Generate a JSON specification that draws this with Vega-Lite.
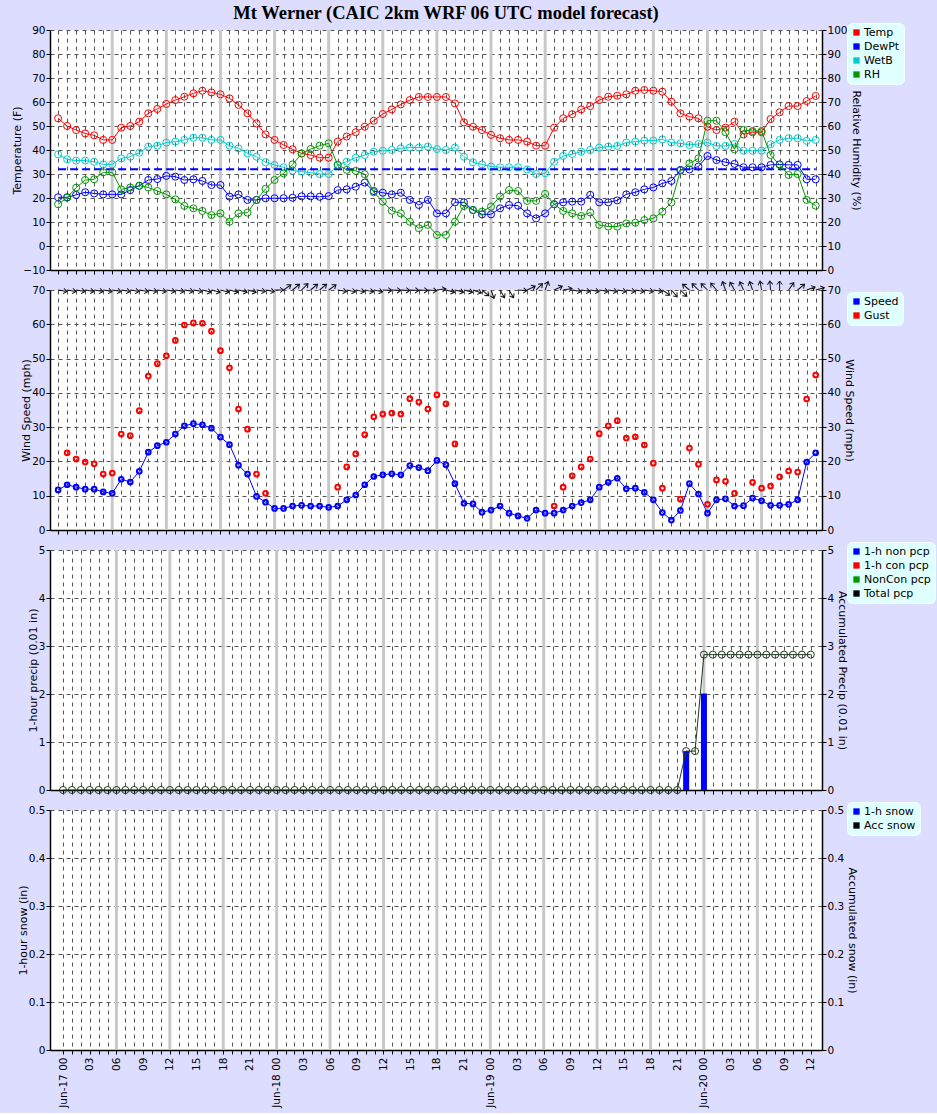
{
"$schema":"https://vega.github.io/schema/vega-lite/v6.json",
"padding":{"left":11,"top":4,"right":5,"bottom":5},
"background":"#DDDDFF",
"title":{"text":"Mt Werner (CAIC 2km WRF 06 UTC model forecast)","font":"Liberation Serif","fontSize":18.5,"fontWeight":"bold","color":"black","anchor":"middle","frame":"group","dx":10,"offset":0},
"datasets":{
"six":[{"h":6},{"h":12},{"h":18},{"h":24},{"h":30},{"h":36},{"h":42},{"h":48},{"h":54},{"h":60},{"h":66},{"h":72},{"h":78}],
"frz":[{"a":0,"b":84,"t":32}],
"met":[
{"h":0,"Temp":53.2,"DewPt":20.3,"WetB":38.2,"RH":27.4},
{"h":1,"Temp":50.0,"DewPt":20.3,"WetB":36.1,"RH":30.1},
{"h":2,"Temp":48.3,"DewPt":21.3,"WetB":35.6,"RH":34.3},
{"h":3,"Temp":46.9,"DewPt":22.4,"WetB":35.6,"RH":37.5},
{"h":4,"Temp":46.1,"DewPt":21.9,"WetB":35.1,"RH":37.8},
{"h":5,"Temp":44.2,"DewPt":21.5,"WetB":34.0,"RH":40.7},
{"h":6,"Temp":44.2,"DewPt":21.5,"WetB":34.0,"RH":40.7},
{"h":7,"Temp":49.3,"DewPt":21.5,"WetB":36.5,"RH":33.6},
{"h":8,"Temp":50.0,"DewPt":23.3,"WetB":37.2,"RH":34.4},
{"h":9,"Temp":51.8,"DewPt":25.1,"WetB":38.9,"RH":35.1},
{"h":10,"Temp":55.3,"DewPt":27.5,"WetB":41.4,"RH":34.4},
{"h":11,"Temp":57.1,"DewPt":27.9,"WetB":41.8,"RH":32.9},
{"h":12,"Temp":59.2,"DewPt":29.2,"WetB":43.1,"RH":31.5},
{"h":13,"Temp":60.8,"DewPt":28.9,"WetB":43.5,"RH":29.4},
{"h":14,"Temp":62.2,"DewPt":27.5,"WetB":44.2,"RH":26.7},
{"h":15,"Temp":63.6,"DewPt":27.8,"WetB":45.1,"RH":25.7},
{"h":16,"Temp":64.7,"DewPt":27.1,"WetB":45.1,"RH":24.6},
{"h":17,"Temp":64.0,"DewPt":25.4,"WetB":44.2,"RH":22.9},
{"h":18,"Temp":63.2,"DewPt":25.4,"WetB":44.2,"RH":23.6},
{"h":19,"Temp":61.5,"DewPt":20.6,"WetB":41.8,"RH":20.1},
{"h":20,"Temp":58.8,"DewPt":21.5,"WetB":40.7,"RH":23.6},
{"h":21,"Temp":55.3,"DewPt":19.2,"WetB":38.6,"RH":23.9},
{"h":22,"Temp":51.1,"DewPt":19.2,"WetB":37.2,"RH":29.2},
{"h":23,"Temp":46.5,"DewPt":19.9,"WetB":34.9,"RH":33.8},
{"h":24,"Temp":44.2,"DewPt":19.9,"WetB":33.8,"RH":37.5},
{"h":25,"Temp":42.1,"DewPt":19.9,"WetB":32.8,"RH":40.3},
{"h":26,"Temp":40.3,"DewPt":20.1,"WetB":31.4,"RH":44.0},
{"h":27,"Temp":38.6,"DewPt":20.7,"WetB":31.0,"RH":48.5},
{"h":28,"Temp":37.9,"DewPt":20.7,"WetB":30.6,"RH":50.4},
{"h":29,"Temp":36.8,"DewPt":20.5,"WetB":30.0,"RH":51.8},
{"h":30,"Temp":36.8,"DewPt":20.8,"WetB":30.0,"RH":52.8},
{"h":31,"Temp":43.5,"DewPt":23.3,"WetB":33.8,"RH":43.8},
{"h":32,"Temp":45.6,"DewPt":23.6,"WetB":35.1,"RH":41.7},
{"h":33,"Temp":47.4,"DewPt":24.7,"WetB":36.8,"RH":41.3},
{"h":34,"Temp":49.7,"DewPt":26.4,"WetB":37.9,"RH":39.9},
{"h":35,"Temp":52.2,"DewPt":22.9,"WetB":39.3,"RH":32.4},
{"h":36,"Temp":55.0,"DewPt":22.2,"WetB":39.7,"RH":28.5},
{"h":37,"Temp":56.9,"DewPt":21.5,"WetB":40.0,"RH":24.7},
{"h":38,"Temp":59.0,"DewPt":22.2,"WetB":40.7,"RH":23.6},
{"h":39,"Temp":60.8,"DewPt":19.2,"WetB":41.0,"RH":20.1},
{"h":40,"Temp":62.1,"DewPt":17.1,"WetB":41.0,"RH":17.4},
{"h":41,"Temp":62.1,"DewPt":19.2,"WetB":41.4,"RH":18.8},
{"h":42,"Temp":62.1,"DewPt":13.6,"WetB":40.4,"RH":14.6},
{"h":43,"Temp":62.1,"DewPt":13.6,"WetB":40.0,"RH":14.6},
{"h":44,"Temp":59.4,"DewPt":18.2,"WetB":41.0,"RH":20.1},
{"h":45,"Temp":51.5,"DewPt":18.2,"WetB":37.2,"RH":26.7},
{"h":46,"Temp":49.7,"DewPt":15.0,"WetB":34.9,"RH":25.0},
{"h":47,"Temp":48.3,"DewPt":13.2,"WetB":34.0,"RH":24.3},
{"h":48,"Temp":46.3,"DewPt":13.2,"WetB":33.1,"RH":26.4},
{"h":49,"Temp":44.9,"DewPt":15.7,"WetB":32.8,"RH":30.6},
{"h":50,"Temp":44.2,"DewPt":17.1,"WetB":32.8,"RH":33.3},
{"h":51,"Temp":44.2,"DewPt":16.8,"WetB":32.8,"RH":32.9},
{"h":52,"Temp":43.5,"DewPt":13.6,"WetB":31.9,"RH":28.8},
{"h":53,"Temp":41.8,"DewPt":11.5,"WetB":30.0,"RH":28.8},
{"h":54,"Temp":41.8,"DewPt":13.6,"WetB":30.3,"RH":31.7},
{"h":55,"Temp":49.3,"DewPt":17.4,"WetB":35.1,"RH":27.4},
{"h":56,"Temp":53.2,"DewPt":18.2,"WetB":37.5,"RH":24.6},
{"h":57,"Temp":54.9,"DewPt":18.5,"WetB":38.3,"RH":23.6},
{"h":58,"Temp":56.9,"DewPt":18.5,"WetB":39.3,"RH":22.5},
{"h":59,"Temp":58.3,"DewPt":21.3,"WetB":40.0,"RH":24.0},
{"h":60,"Temp":60.8,"DewPt":18.2,"WetB":41.0,"RH":18.8},
{"h":61,"Temp":62.2,"DewPt":18.2,"WetB":41.4,"RH":18.1},
{"h":62,"Temp":62.6,"DewPt":19.0,"WetB":41.7,"RH":18.1},
{"h":63,"Temp":63.2,"DewPt":21.5,"WetB":43.1,"RH":19.4},
{"h":64,"Temp":64.7,"DewPt":22.4,"WetB":43.5,"RH":19.7},
{"h":65,"Temp":65.0,"DewPt":23.6,"WetB":43.9,"RH":20.8},
{"h":66,"Temp":64.7,"DewPt":24.4,"WetB":43.9,"RH":21.5},
{"h":67,"Temp":64.3,"DewPt":26.1,"WetB":44.4,"RH":24.3},
{"h":68,"Temp":60.1,"DewPt":27.1,"WetB":43.1,"RH":28.1},
{"h":69,"Temp":55.3,"DewPt":31.7,"WetB":42.8,"RH":41.4},
{"h":70,"Temp":53.9,"DewPt":31.9,"WetB":42.1,"RH":44.4},
{"h":71,"Temp":53.2,"DewPt":33.1,"WetB":42.5,"RH":46.5},
{"h":72,"Temp":49.7,"DewPt":37.5,"WetB":43.1,"RH":62.2},
{"h":73,"Temp":48.3,"DewPt":35.8,"WetB":41.7,"RH":62.2},
{"h":74,"Temp":49.3,"DewPt":34.9,"WetB":41.7,"RH":57.4},
{"h":75,"Temp":51.8,"DewPt":34.2,"WetB":42.5,"RH":50.3},
{"h":76,"Temp":46.5,"DewPt":32.8,"WetB":39.7,"RH":58.3},
{"h":77,"Temp":47.4,"DewPt":32.8,"WetB":39.7,"RH":57.9},
{"h":78,"Temp":47.4,"DewPt":32.8,"WetB":39.7,"RH":57.9},
{"h":79,"Temp":52.9,"DewPt":33.8,"WetB":42.4,"RH":47.9},
{"h":80,"Temp":55.7,"DewPt":34.0,"WetB":44.2,"RH":43.8},
{"h":81,"Temp":58.3,"DewPt":33.8,"WetB":44.9,"RH":39.6},
{"h":82,"Temp":58.3,"DewPt":33.8,"WetB":44.9,"RH":40.0},
{"h":83,"Temp":60.4,"DewPt":27.8,"WetB":43.8,"RH":29.2},
{"h":84,"Temp":62.5,"DewPt":27.8,"WetB":44.2,"RH":26.8}
],
"wind":[
{"h":0,"Speed":11.7,"Gust":null,"dir":280},
{"h":1,"Speed":13.2,"Gust":22.5,"dir":280},
{"h":2,"Speed":12.5,"Gust":20.7,"dir":280},
{"h":3,"Speed":11.9,"Gust":19.8,"dir":280},
{"h":4,"Speed":11.9,"Gust":19.3,"dir":280},
{"h":5,"Speed":11.1,"Gust":16.3,"dir":280},
{"h":6,"Speed":10.7,"Gust":16.6,"dir":280},
{"h":7,"Speed":14.8,"Gust":28.0,"dir":280},
{"h":8,"Speed":14.0,"Gust":27.5,"dir":280},
{"h":9,"Speed":17.1,"Gust":34.8,"dir":280},
{"h":10,"Speed":22.7,"Gust":44.9,"dir":280},
{"h":11,"Speed":24.6,"Gust":48.5,"dir":280},
{"h":12,"Speed":25.6,"Gust":50.8,"dir":280},
{"h":13,"Speed":28.0,"Gust":55.3,"dir":280},
{"h":14,"Speed":30.4,"Gust":59.8,"dir":280},
{"h":15,"Speed":31.0,"Gust":60.4,"dir":280},
{"h":16,"Speed":30.7,"Gust":60.3,"dir":285},
{"h":17,"Speed":29.7,"Gust":58.0,"dir":285},
{"h":18,"Speed":27.1,"Gust":52.3,"dir":285},
{"h":19,"Speed":24.9,"Gust":47.3,"dir":285},
{"h":20,"Speed":18.9,"Gust":35.3,"dir":285},
{"h":21,"Speed":16.3,"Gust":29.4,"dir":285},
{"h":22,"Speed":9.8,"Gust":16.3,"dir":280},
{"h":23,"Speed":8.1,"Gust":10.7,"dir":280},
{"h":24,"Speed":6.3,"Gust":null,"dir":270},
{"h":25,"Speed":6.3,"Gust":null,"dir":235},
{"h":26,"Speed":7.0,"Gust":null,"dir":230},
{"h":27,"Speed":7.2,"Gust":null,"dir":225},
{"h":28,"Speed":7.0,"Gust":null,"dir":230},
{"h":29,"Speed":7.0,"Gust":null,"dir":230},
{"h":30,"Speed":6.6,"Gust":null,"dir":235},
{"h":31,"Speed":7.0,"Gust":12.5,"dir":280},
{"h":32,"Speed":8.8,"Gust":18.4,"dir":282},
{"h":33,"Speed":10.2,"Gust":22.2,"dir":282},
{"h":34,"Speed":13.2,"Gust":27.8,"dir":282},
{"h":35,"Speed":15.6,"Gust":33.0,"dir":282},
{"h":36,"Speed":16.1,"Gust":33.8,"dir":273},
{"h":37,"Speed":16.4,"Gust":34.1,"dir":273},
{"h":38,"Speed":16.1,"Gust":33.8,"dir":273},
{"h":39,"Speed":18.8,"Gust":38.3,"dir":273},
{"h":40,"Speed":18.2,"Gust":37.3,"dir":273},
{"h":41,"Speed":17.3,"Gust":35.3,"dir":275},
{"h":42,"Speed":20.3,"Gust":39.4,"dir":262},
{"h":43,"Speed":19.0,"Gust":36.8,"dir":285},
{"h":44,"Speed":13.5,"Gust":25.1,"dir":285},
{"h":45,"Speed":7.8,"Gust":null,"dir":285},
{"h":46,"Speed":7.6,"Gust":null,"dir":290},
{"h":47,"Speed":5.2,"Gust":null,"dir":310},
{"h":48,"Speed":5.8,"Gust":null,"dir":340},
{"h":49,"Speed":7.0,"Gust":null,"dir":330},
{"h":50,"Speed":4.9,"Gust":null,"dir":330},
{"h":51,"Speed":4.1,"Gust":null,"dir":275},
{"h":52,"Speed":3.4,"Gust":null,"dir":245},
{"h":53,"Speed":5.8,"Gust":null,"dir":225},
{"h":54,"Speed":4.9,"Gust":null,"dir":200},
{"h":55,"Speed":4.9,"Gust":7.0,"dir":245},
{"h":56,"Speed":5.8,"Gust":12.5,"dir":260},
{"h":57,"Speed":7.0,"Gust":15.8,"dir":280},
{"h":58,"Speed":8.0,"Gust":18.4,"dir":280},
{"h":59,"Speed":8.8,"Gust":20.7,"dir":280},
{"h":60,"Speed":12.5,"Gust":28.1,"dir":280},
{"h":61,"Speed":13.9,"Gust":30.4,"dir":280},
{"h":62,"Speed":15.1,"Gust":31.9,"dir":280},
{"h":63,"Speed":12.0,"Gust":26.8,"dir":280},
{"h":64,"Speed":12.2,"Gust":27.2,"dir":280},
{"h":65,"Speed":11.0,"Gust":24.8,"dir":280},
{"h":66,"Speed":8.8,"Gust":19.5,"dir":280},
{"h":67,"Speed":5.1,"Gust":12.2,"dir":305},
{"h":68,"Speed":2.9,"Gust":null,"dir":320},
{"h":69,"Speed":5.7,"Gust":9.0,"dir":315},
{"h":70,"Speed":13.5,"Gust":23.9,"dir":130},
{"h":71,"Speed":10.5,"Gust":19.2,"dir":135},
{"h":72,"Speed":4.9,"Gust":7.5,"dir":135},
{"h":73,"Speed":8.8,"Gust":14.6,"dir":140},
{"h":74,"Speed":9.1,"Gust":14.2,"dir":160},
{"h":75,"Speed":7.0,"Gust":10.7,"dir":150},
{"h":76,"Speed":7.1,"Gust":null,"dir":155},
{"h":77,"Speed":9.3,"Gust":13.9,"dir":160},
{"h":78,"Speed":8.5,"Gust":12.2,"dir":170},
{"h":79,"Speed":7.2,"Gust":12.8,"dir":175},
{"h":80,"Speed":7.2,"Gust":15.5,"dir":180},
{"h":81,"Speed":7.5,"Gust":17.2,"dir":215},
{"h":82,"Speed":8.8,"Gust":16.9,"dir":230},
{"h":83,"Speed":19.8,"Gust":38.2,"dir":250},
{"h":84,"Speed":22.5,"Gust":45.2,"dir":255}
],
"pcp":[
{"h":0,"1-h non pcp":0,"Total pcp":0},{"h":1,"1-h non pcp":0,"Total pcp":0},{"h":2,"1-h non pcp":0,"Total pcp":0},{"h":3,"1-h non pcp":0,"Total pcp":0},{"h":4,"1-h non pcp":0,"Total pcp":0},{"h":5,"1-h non pcp":0,"Total pcp":0},{"h":6,"1-h non pcp":0,"Total pcp":0},{"h":7,"1-h non pcp":0,"Total pcp":0},{"h":8,"1-h non pcp":0,"Total pcp":0},{"h":9,"1-h non pcp":0,"Total pcp":0},
{"h":10,"1-h non pcp":0,"Total pcp":0},{"h":11,"1-h non pcp":0,"Total pcp":0},{"h":12,"1-h non pcp":0,"Total pcp":0},{"h":13,"1-h non pcp":0,"Total pcp":0},{"h":14,"1-h non pcp":0,"Total pcp":0},{"h":15,"1-h non pcp":0,"Total pcp":0},{"h":16,"1-h non pcp":0,"Total pcp":0},{"h":17,"1-h non pcp":0,"Total pcp":0},{"h":18,"1-h non pcp":0,"Total pcp":0},{"h":19,"1-h non pcp":0,"Total pcp":0},
{"h":20,"1-h non pcp":0,"Total pcp":0},{"h":21,"1-h non pcp":0,"Total pcp":0},{"h":22,"1-h non pcp":0,"Total pcp":0},{"h":23,"1-h non pcp":0,"Total pcp":0},{"h":24,"1-h non pcp":0,"Total pcp":0},{"h":25,"1-h non pcp":0,"Total pcp":0},{"h":26,"1-h non pcp":0,"Total pcp":0},{"h":27,"1-h non pcp":0,"Total pcp":0},{"h":28,"1-h non pcp":0,"Total pcp":0},{"h":29,"1-h non pcp":0,"Total pcp":0},
{"h":30,"1-h non pcp":0,"Total pcp":0},{"h":31,"1-h non pcp":0,"Total pcp":0},{"h":32,"1-h non pcp":0,"Total pcp":0},{"h":33,"1-h non pcp":0,"Total pcp":0},{"h":34,"1-h non pcp":0,"Total pcp":0},{"h":35,"1-h non pcp":0,"Total pcp":0},{"h":36,"1-h non pcp":0,"Total pcp":0},{"h":37,"1-h non pcp":0,"Total pcp":0},{"h":38,"1-h non pcp":0,"Total pcp":0},{"h":39,"1-h non pcp":0,"Total pcp":0},
{"h":40,"1-h non pcp":0,"Total pcp":0},{"h":41,"1-h non pcp":0,"Total pcp":0},{"h":42,"1-h non pcp":0,"Total pcp":0},{"h":43,"1-h non pcp":0,"Total pcp":0},{"h":44,"1-h non pcp":0,"Total pcp":0},{"h":45,"1-h non pcp":0,"Total pcp":0},{"h":46,"1-h non pcp":0,"Total pcp":0},{"h":47,"1-h non pcp":0,"Total pcp":0},{"h":48,"1-h non pcp":0,"Total pcp":0},{"h":49,"1-h non pcp":0,"Total pcp":0},
{"h":50,"1-h non pcp":0,"Total pcp":0},{"h":51,"1-h non pcp":0,"Total pcp":0},{"h":52,"1-h non pcp":0,"Total pcp":0},{"h":53,"1-h non pcp":0,"Total pcp":0},{"h":54,"1-h non pcp":0,"Total pcp":0},{"h":55,"1-h non pcp":0,"Total pcp":0},{"h":56,"1-h non pcp":0,"Total pcp":0},{"h":57,"1-h non pcp":0,"Total pcp":0},{"h":58,"1-h non pcp":0,"Total pcp":0},{"h":59,"1-h non pcp":0,"Total pcp":0},
{"h":60,"1-h non pcp":0,"Total pcp":0},{"h":61,"1-h non pcp":0,"Total pcp":0},{"h":62,"1-h non pcp":0,"Total pcp":0},{"h":63,"1-h non pcp":0,"Total pcp":0},{"h":64,"1-h non pcp":0,"Total pcp":0},{"h":65,"1-h non pcp":0,"Total pcp":0},{"h":66,"1-h non pcp":0,"Total pcp":0},{"h":67,"1-h non pcp":0,"Total pcp":0},{"h":68,"1-h non pcp":0,"Total pcp":0},{"h":69,"1-h non pcp":0,"Total pcp":0},
{"h":70,"1-h non pcp":0.81,"Total pcp":0.81},{"h":71,"1-h non pcp":0,"Total pcp":0.81},{"h":72,"1-h non pcp":2.01,"Total pcp":2.82},{"h":73,"1-h non pcp":0,"Total pcp":2.82},{"h":74,"1-h non pcp":0,"Total pcp":2.82},{"h":75,"1-h non pcp":0,"Total pcp":2.82},{"h":76,"1-h non pcp":0,"Total pcp":2.82},{"h":77,"1-h non pcp":0,"Total pcp":2.82},{"h":78,"1-h non pcp":0,"Total pcp":2.82},{"h":79,"1-h non pcp":0,"Total pcp":2.82},
{"h":80,"1-h non pcp":0,"Total pcp":2.82},{"h":81,"1-h non pcp":0,"Total pcp":2.82},{"h":82,"1-h non pcp":0,"Total pcp":2.82},{"h":83,"1-h non pcp":0,"Total pcp":2.82},{"h":84,"1-h non pcp":0,"Total pcp":2.82}
],
"snow":[
{"h":0,"1-h snow":0,"Acc snow":0},{"h":12,"1-h snow":0,"Acc snow":0},{"h":24,"1-h snow":0,"Acc snow":0},{"h":36,"1-h snow":0,"Acc snow":0},{"h":48,"1-h snow":0,"Acc snow":0},{"h":60,"1-h snow":0,"Acc snow":0},{"h":72,"1-h snow":0,"Acc snow":0},{"h":84,"1-h snow":0,"Acc snow":0}
]
},
"spacing":20,
"bounds":"flush",
"resolve":{"scale":{"color":"independent","x":"independent","y":"independent"},"legend":{"color":"independent"}},
"vconcat":[
{
"width":772,"height":240,
"layer":[
{"layer":[
{"data":{"name":"six"},"mark":{"type":"rule","color":"#C8C8C8","strokeWidth":3},
 "encoding":{"x":{"field":"h","type":"quantitative","scale":{"domain":[-0.9,84.7],"nice":false,"zero":false},"axis":{"values":[0,1,2,3,4,5,6,7,8,9,10,11,12,13,14,15,16,17,18,19,20,21,22,23,24,25,26,27,28,29,30,31,32,33,34,35,36,37,38,39,40,41,42,43,44,45,46,47,48,49,50,51,52,53,54,55,56,57,58,59,60,61,62,63,64,65,66,67,68,69,70,71,72,73,74,75,76,77,78,79,80,81,82,83,84],"tickCount":85,"labels":false,"grid":true,"title":null}}}},
{"data":{"name":"met"},"transform":[{"fold":["Temp","DewPt","WetB"],"as":["series","value"]}],
 "mark":{"type":"square","size":0,"opacity":1,"filled":true},
 "encoding":{"x":{"field":"h","type":"quantitative","scale":{"domain":[-0.9,84.7],"nice":false,"zero":false},"axis":{"values":[0,1,2,3,4,5,6,7,8,9,10,11,12,13,14,15,16,17,18,19,20,21,22,23,24,25,26,27,28,29,30,31,32,33,34,35,36,37,38,39,40,41,42,43,44,45,46,47,48,49,50,51,52,53,54,55,56,57,58,59,60,61,62,63,64,65,66,67,68,69,70,71,72,73,74,75,76,77,78,79,80,81,82,83,84],"tickCount":85,"labels":false,"grid":true,"title":null}},
  "y":{"field":"value","type":"quantitative","scale":{"domain":[-10,90],"nice":false,"zero":false},"axis":{"title":"Temperature (F)","values":[-10,0,10,20,30,40,50,60,70,80,90],"tickCount":11,"grid":true}},
  "color":{"field":"series","type":"nominal","scale":{"domain":["Temp","DewPt","WetB","RH"],"range":["#FF0000","#0000FF","#00CCCC","#009900"]},"legend":{"legendX":797,"legendY":-7}}}},
{"data":{"name":"met"},"transform":[{"fold":["Temp","DewPt","WetB"],"as":["series","value"]}],
 "mark":{"type":"line","strokeWidth":1,"point":{"filled":false,"size":50,"strokeWidth":1,"opacity":1}},
 "encoding":{"x":{"field":"h","type":"quantitative","scale":{"domain":[-0.9,84.7],"nice":false,"zero":false},"axis":{"values":[0,1,2,3,4,5,6,7,8,9,10,11,12,13,14,15,16,17,18,19,20,21,22,23,24,25,26,27,28,29,30,31,32,33,34,35,36,37,38,39,40,41,42,43,44,45,46,47,48,49,50,51,52,53,54,55,56,57,58,59,60,61,62,63,64,65,66,67,68,69,70,71,72,73,74,75,76,77,78,79,80,81,82,83,84],"tickCount":85,"labels":false,"grid":true,"title":null}},
  "y":{"field":"value","type":"quantitative","scale":{"domain":[-10,90],"nice":false,"zero":false},"axis":{"title":"Temperature (F)","values":[-10,0,10,20,30,40,50,60,70,80,90],"tickCount":11,"grid":true}},
  "color":{"field":"series","type":"nominal","scale":{"domain":["Temp","DewPt","WetB","RH"],"range":["#FF0000","#0000FF","#00CCCC","#009900"]}}}},
{"data":{"name":"frz"},"mark":{"type":"rule","color":"#0000FF","strokeWidth":2,"strokeDash":[8,4]},
 "encoding":{"x":{"field":"a","type":"quantitative","scale":{"domain":[-0.9,84.7],"nice":false,"zero":false},"axis":{"values":[0,1,2,3,4,5,6,7,8,9,10,11,12,13,14,15,16,17,18,19,20,21,22,23,24,25,26,27,28,29,30,31,32,33,34,35,36,37,38,39,40,41,42,43,44,45,46,47,48,49,50,51,52,53,54,55,56,57,58,59,60,61,62,63,64,65,66,67,68,69,70,71,72,73,74,75,76,77,78,79,80,81,82,83,84],"tickCount":85,"labels":false,"grid":true,"title":null}},"x2":{"field":"b"},
  "y":{"field":"t","type":"quantitative","scale":{"domain":[-10,90],"nice":false,"zero":false},"axis":{"title":"Temperature (F)","values":[-10,0,10,20,30,40,50,60,70,80,90],"tickCount":11,"grid":true}}}}
]},
{"layer":[
{"data":{"name":"met"},"transform":[{"fold":["RH"],"as":["series","value"]}],
 "mark":{"type":"line","strokeWidth":1,"point":{"filled":false,"size":50,"strokeWidth":1,"opacity":1}},
 "encoding":{"x":{"field":"h","type":"quantitative","scale":{"domain":[-0.9,84.7],"nice":false,"zero":false},"axis":{"values":[0,1,2,3,4,5,6,7,8,9,10,11,12,13,14,15,16,17,18,19,20,21,22,23,24,25,26,27,28,29,30,31,32,33,34,35,36,37,38,39,40,41,42,43,44,45,46,47,48,49,50,51,52,53,54,55,56,57,58,59,60,61,62,63,64,65,66,67,68,69,70,71,72,73,74,75,76,77,78,79,80,81,82,83,84],"tickCount":85,"labels":false,"grid":true,"title":null}},
  "y":{"field":"value","type":"quantitative","scale":{"domain":[0,100],"nice":false,"zero":false},"axis":{"orient":"right","title":"Relative Humidity (%)","values":[0,10,20,30,40,50,60,70,80,90,100],"tickCount":11,"grid":false}},
  "color":{"field":"series","type":"nominal","scale":{"domain":["Temp","DewPt","WetB","RH"],"range":["#FF0000","#0000FF","#00CCCC","#009900"]}}}}
]}
],
"resolve":{"scale":{"y":"independent"}}
},
{
"width":772,"height":240,
"layer":[
{"layer":[
{"data":{"name":"six"},"mark":{"type":"rule","color":"#C8C8C8","strokeWidth":3},
 "encoding":{"x":{"field":"h","type":"quantitative","scale":{"domain":[-0.9,84.7],"nice":false,"zero":false},"axis":{"values":[0,1,2,3,4,5,6,7,8,9,10,11,12,13,14,15,16,17,18,19,20,21,22,23,24,25,26,27,28,29,30,31,32,33,34,35,36,37,38,39,40,41,42,43,44,45,46,47,48,49,50,51,52,53,54,55,56,57,58,59,60,61,62,63,64,65,66,67,68,69,70,71,72,73,74,75,76,77,78,79,80,81,82,83,84],"tickCount":85,"labels":false,"grid":true,"title":null}}}},
{"data":{"name":"wind"},"transform":[{"fold":["Speed","Gust"],"as":["series","value"]}],
 "mark":{"type":"square","size":0,"opacity":1,"filled":true},
 "encoding":{"x":{"field":"h","type":"quantitative","scale":{"domain":[-0.9,84.7],"nice":false,"zero":false},"axis":{"values":[0,1,2,3,4,5,6,7,8,9,10,11,12,13,14,15,16,17,18,19,20,21,22,23,24,25,26,27,28,29,30,31,32,33,34,35,36,37,38,39,40,41,42,43,44,45,46,47,48,49,50,51,52,53,54,55,56,57,58,59,60,61,62,63,64,65,66,67,68,69,70,71,72,73,74,75,76,77,78,79,80,81,82,83,84],"tickCount":85,"labels":false,"grid":true,"title":null}},
  "y":{"field":"value","type":"quantitative","scale":{"domain":[0,70],"nice":false,"zero":false},"axis":{"title":"Wind Speed (mph)","values":[0,10,20,30,40,50,60,70],"tickCount":8,"grid":true}},
  "color":{"field":"series","type":"nominal","scale":{"domain":["Speed","Gust"],"range":["#0000FF","#FF0000"]},"legend":{"legendX":797,"legendY":2}}}},
{"data":{"name":"wind"},"transform":[{"fold":["Speed"],"as":["series","value"]}],
 "mark":{"type":"line","strokeWidth":1,"point":{"filled":false,"size":22,"strokeWidth":2,"opacity":1}},
 "encoding":{"x":{"field":"h","type":"quantitative","scale":{"domain":[-0.9,84.7],"nice":false,"zero":false},"axis":{"values":[0,1,2,3,4,5,6,7,8,9,10,11,12,13,14,15,16,17,18,19,20,21,22,23,24,25,26,27,28,29,30,31,32,33,34,35,36,37,38,39,40,41,42,43,44,45,46,47,48,49,50,51,52,53,54,55,56,57,58,59,60,61,62,63,64,65,66,67,68,69,70,71,72,73,74,75,76,77,78,79,80,81,82,83,84],"tickCount":85,"labels":false,"grid":true,"title":null}},
  "y":{"field":"value","type":"quantitative","scale":{"domain":[0,70],"nice":false,"zero":false},"axis":{"title":"Wind Speed (mph)","values":[0,10,20,30,40,50,60,70],"tickCount":8,"grid":true}},
  "color":{"field":"series","type":"nominal","scale":{"domain":["Speed","Gust"],"range":["#0000FF","#FF0000"]}}}},
{"data":{"name":"wind"},
 "mark":{"type":"point","shape":"M0,0L1,0M0.6,-0.3L1,0L0.6,0.3","filled":false,"size":324,"strokeWidth":1,"color":"#111111","opacity":1},
 "encoding":{"x":{"field":"h","type":"quantitative","scale":{"domain":[-0.9,84.7],"nice":false,"zero":false},"axis":{"values":[0,1,2,3,4,5,6,7,8,9,10,11,12,13,14,15,16,17,18,19,20,21,22,23,24,25,26,27,28,29,30,31,32,33,34,35,36,37,38,39,40,41,42,43,44,45,46,47,48,49,50,51,52,53,54,55,56,57,58,59,60,61,62,63,64,65,66,67,68,69,70,71,72,73,74,75,76,77,78,79,80,81,82,83,84],"tickCount":85,"labels":false,"grid":true,"title":null}},
  "y":{"datum":70,"type":"quantitative","scale":{"domain":[0,70],"nice":false,"zero":false},"axis":{"title":"Wind Speed (mph)","values":[0,10,20,30,40,50,60,70],"tickCount":8,"grid":true}},
  "angle":{"field":"dir","type":"quantitative","scale":{"domain":[0,360],"range":[90,450]},"legend":null}}}
]},
{"layer":[
{"data":{"name":"wind"},"transform":[{"fold":["Gust"],"as":["series","value"]}],
 "mark":{"type":"point","filled":false,"size":22,"strokeWidth":2,"opacity":1},
 "encoding":{"x":{"field":"h","type":"quantitative","scale":{"domain":[-0.9,84.7],"nice":false,"zero":false},"axis":{"values":[0,1,2,3,4,5,6,7,8,9,10,11,12,13,14,15,16,17,18,19,20,21,22,23,24,25,26,27,28,29,30,31,32,33,34,35,36,37,38,39,40,41,42,43,44,45,46,47,48,49,50,51,52,53,54,55,56,57,58,59,60,61,62,63,64,65,66,67,68,69,70,71,72,73,74,75,76,77,78,79,80,81,82,83,84],"tickCount":85,"labels":false,"grid":true,"title":null}},
  "y":{"field":"value","type":"quantitative","scale":{"domain":[0,70],"nice":false,"zero":false},"axis":{"orient":"right","title":"Wind Speed (mph)","values":[0,10,20,30,40,50,60,70],"tickCount":8,"grid":false}},
  "color":{"field":"series","type":"nominal","scale":{"domain":["Speed","Gust"],"range":["#0000FF","#FF0000"]}}}}
]}
],
"resolve":{"scale":{"y":"independent"}}
},
{
"width":772,"height":240,
"layer":[
{"layer":[
{"data":{"name":"six"},"mark":{"type":"rule","color":"#C8C8C8","strokeWidth":3},
 "encoding":{"x":{"field":"h","type":"quantitative","scale":{"domain":[-0.9,84.7],"nice":false,"zero":false},"axis":{"values":[0,1,2,3,4,5,6,7,8,9,10,11,12,13,14,15,16,17,18,19,20,21,22,23,24,25,26,27,28,29,30,31,32,33,34,35,36,37,38,39,40,41,42,43,44,45,46,47,48,49,50,51,52,53,54,55,56,57,58,59,60,61,62,63,64,65,66,67,68,69,70,71,72,73,74,75,76,77,78,79,80,81,82,83,84],"tickCount":85,"labels":false,"grid":true,"title":null}}}},
{"data":{"name":"pcp"},"transform":[{"fold":["1-h non pcp"],"as":["series","value"]}],
 "mark":{"type":"bar","size":6},
 "encoding":{"x":{"field":"h","type":"quantitative","scale":{"domain":[-0.9,84.7],"nice":false,"zero":false},"axis":{"values":[0,1,2,3,4,5,6,7,8,9,10,11,12,13,14,15,16,17,18,19,20,21,22,23,24,25,26,27,28,29,30,31,32,33,34,35,36,37,38,39,40,41,42,43,44,45,46,47,48,49,50,51,52,53,54,55,56,57,58,59,60,61,62,63,64,65,66,67,68,69,70,71,72,73,74,75,76,77,78,79,80,81,82,83,84],"tickCount":85,"labels":false,"grid":true,"title":null}},
  "y":{"field":"value","type":"quantitative","scale":{"domain":[0,5],"nice":false,"zero":false},"axis":{"title":"1-hour precip (0.01 in)","values":[0,1,2,3,4,5],"tickCount":6,"grid":true}},
  "color":{"field":"series","type":"nominal","scale":{"domain":["1-h non pcp","1-h con pcp","NonCon pcp","Total pcp"],"range":["#0000FF","#FF0000","#009900","#000000"]},"legend":{"legendX":797,"legendY":-8}}}}
]},
{"layer":[
{"data":{"name":"pcp"},
 "mark":{"type":"line","strokeWidth":1,"color":"#1E3A1E","point":{"filled":false,"size":50,"strokeWidth":1,"color":"#1E3A1E","opacity":1}},
 "encoding":{"x":{"field":"h","type":"quantitative","scale":{"domain":[-0.9,84.7],"nice":false,"zero":false},"axis":{"values":[0,1,2,3,4,5,6,7,8,9,10,11,12,13,14,15,16,17,18,19,20,21,22,23,24,25,26,27,28,29,30,31,32,33,34,35,36,37,38,39,40,41,42,43,44,45,46,47,48,49,50,51,52,53,54,55,56,57,58,59,60,61,62,63,64,65,66,67,68,69,70,71,72,73,74,75,76,77,78,79,80,81,82,83,84],"tickCount":85,"labels":false,"grid":true,"title":null}},
  "y":{"field":"Total pcp","type":"quantitative","scale":{"domain":[0,5],"nice":false,"zero":false},"axis":{"orient":"right","title":"Accumulated Precip (0.01 in)","values":[0,1,2,3,4,5],"tickCount":6,"grid":false}}}}
]}
],
"resolve":{"scale":{"y":"independent"}}
},
{
"width":772,"height":240,
"layer":[
{"layer":[
{"data":{"name":"six"},"mark":{"type":"rule","color":"#C8C8C8","strokeWidth":3},
 "encoding":{"x":{"field":"h","type":"quantitative","scale":{"domain":[-0.9,84.7],"nice":false,"zero":false},"axis":{"values":[0,1,2,3,4,5,6,7,8,9,10,11,12,13,14,15,16,17,18,19,20,21,22,23,24,25,26,27,28,29,30,31,32,33,34,35,36,37,38,39,40,41,42,43,44,45,46,47,48,49,50,51,52,53,54,55,56,57,58,59,60,61,62,63,64,65,66,67,68,69,70,71,72,73,74,75,76,77,78,79,80,81,82,83,84],"tickCount":85,"grid":true,"title":null,"labelAngle":-90,"labelAlign":"right","labelBaseline":"middle","labelOverlap":false,"labelFlush":false,"labelPadding":3,"labelExpr":"datum.value % 3 != 0 ? '' : (datum.value % 24 == 0 ? 'Jun-' + (17 + floor(datum.value / 24)) + ' 00' : (datum.value % 24 < 10 ? '0' : '') + (datum.value % 24))"}}}},
{"data":{"name":"snow"},"transform":[{"fold":["1-h snow"],"as":["series","value"]}],
 "mark":{"type":"bar","size":6},
 "encoding":{"x":{"field":"h","type":"quantitative","scale":{"domain":[-0.9,84.7],"nice":false,"zero":false},"axis":{"values":[0,1,2,3,4,5,6,7,8,9,10,11,12,13,14,15,16,17,18,19,20,21,22,23,24,25,26,27,28,29,30,31,32,33,34,35,36,37,38,39,40,41,42,43,44,45,46,47,48,49,50,51,52,53,54,55,56,57,58,59,60,61,62,63,64,65,66,67,68,69,70,71,72,73,74,75,76,77,78,79,80,81,82,83,84],"tickCount":85,"grid":true,"title":null,"labelAngle":-90,"labelAlign":"right","labelBaseline":"middle","labelOverlap":false,"labelFlush":false,"labelPadding":3,"labelExpr":"datum.value % 3 != 0 ? '' : (datum.value % 24 == 0 ? 'Jun-' + (17 + floor(datum.value / 24)) + ' 00' : (datum.value % 24 < 10 ? '0' : '') + (datum.value % 24))"}},
  "y":{"field":"value","type":"quantitative","scale":{"domain":[0,0.5],"nice":false,"zero":false},"axis":{"title":"1-hour snow (in)","values":[0,0.1,0.2,0.3,0.4,0.5],"tickCount":6,"format":"~f","grid":true}},
  "color":{"field":"series","type":"nominal","scale":{"domain":["1-h snow","Acc snow"],"range":["#0000FF","#000000"]},"legend":{"legendX":797,"legendY":-8}}}}
]},
{"layer":[
{"data":{"name":"snow"},
 "mark":{"type":"bar","size":6,"color":"#000000"},
 "encoding":{"x":{"field":"h","type":"quantitative","scale":{"domain":[-0.9,84.7],"nice":false,"zero":false},"axis":{"values":[0,1,2,3,4,5,6,7,8,9,10,11,12,13,14,15,16,17,18,19,20,21,22,23,24,25,26,27,28,29,30,31,32,33,34,35,36,37,38,39,40,41,42,43,44,45,46,47,48,49,50,51,52,53,54,55,56,57,58,59,60,61,62,63,64,65,66,67,68,69,70,71,72,73,74,75,76,77,78,79,80,81,82,83,84],"tickCount":85,"grid":true,"title":null,"labelAngle":-90,"labelAlign":"right","labelBaseline":"middle","labelOverlap":false,"labelFlush":false,"labelPadding":3,"labelExpr":"datum.value % 3 != 0 ? '' : (datum.value % 24 == 0 ? 'Jun-' + (17 + floor(datum.value / 24)) + ' 00' : (datum.value % 24 < 10 ? '0' : '') + (datum.value % 24))"}},
  "y":{"field":"Acc snow","type":"quantitative","scale":{"domain":[0,0.5],"nice":false,"zero":false},"axis":{"orient":"right","title":"Accumulated snow (in)","values":[0,0.1,0.2,0.3,0.4,0.5],"tickCount":6,"format":"~f","grid":false}}}}
]}
],
"resolve":{"scale":{"y":"independent"}}
}
],
"config":{
"view":{"fill":"white","stroke":null},
"font":"DejaVu Sans",
"axis":{"labelFont":"DejaVu Sans","labelFontSize":10.5,"labelColor":"black","titleFont":"DejaVu Sans","titleFontSize":11,"titleFontWeight":"normal","titleColor":"black","domainColor":"black","domainWidth":1.5,"tickColor":"black","tickSize":4,"tickWidth":1,"gridColor":"#555555","gridDash":[4,4],"gridOpacity":1,"gridWidth":1,"labelPadding":1,"titlePadding":3},
"axisLeft":{"titlePadding":0},
"axisRight":{"titlePadding":3},
"legend":{"orient":"none","title":null,"symbolType":"square","symbolSize":40,"symbolOpacity":1,"symbolStrokeWidth":0,"fillColor":"#E0FFFF","strokeColor":"#F4FFFF","cornerRadius":5,"padding":4,"labelFont":"DejaVu Sans","labelFontSize":11,"labelColor":"black","rowPadding":2,"labelOffset":2}
}
}
